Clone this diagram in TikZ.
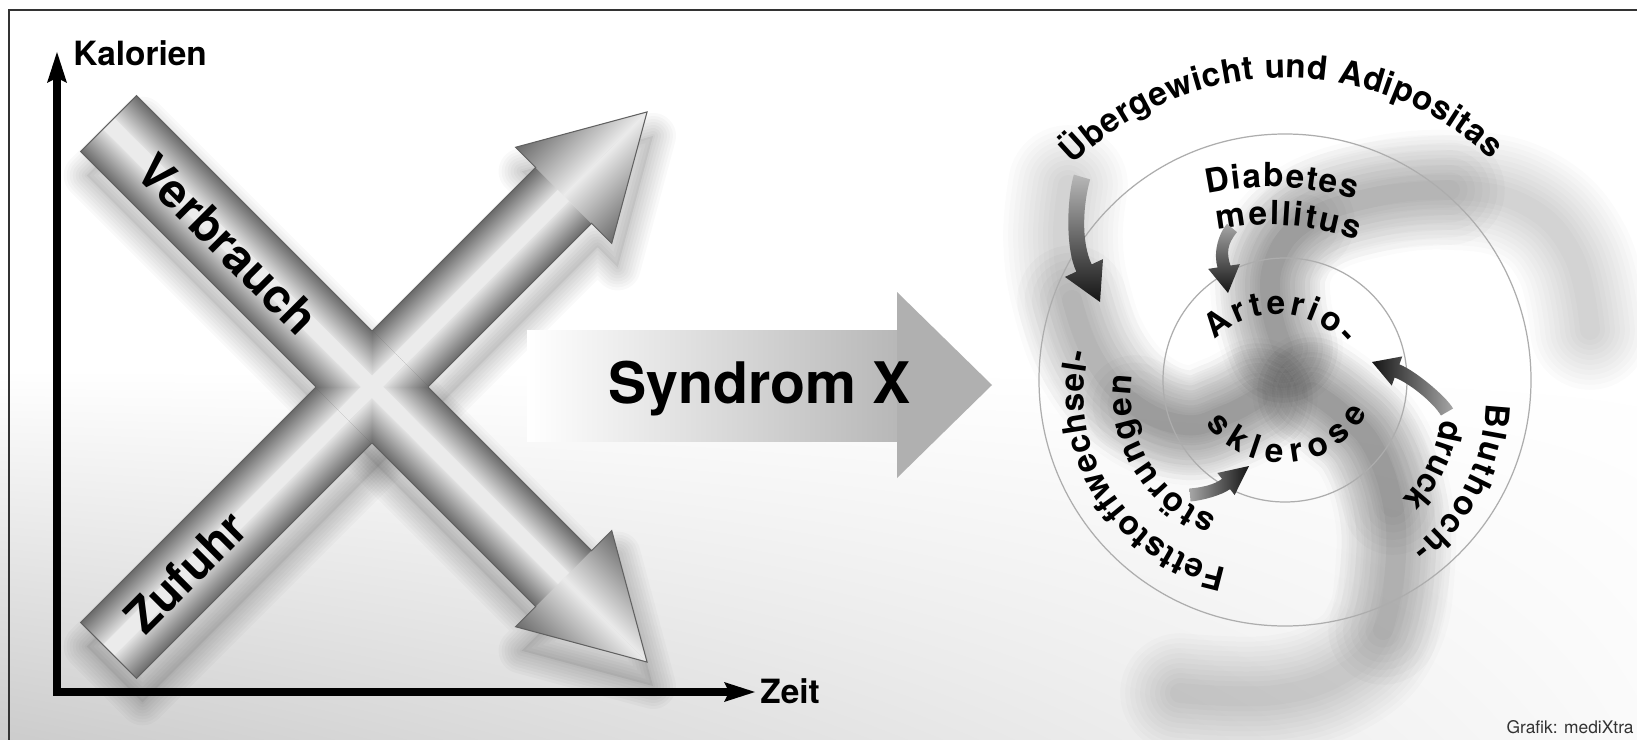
\documentclass[tikz,border=0pt]{standalone}
\usepackage{fontspec}
\setmainfont{TeX Gyre Heros}
\usetikzlibrary{calc,decorations.text,shadings}
\newcommand\lblfont{\fontsize{18.9pt}{20pt}\selectfont\bfseries}
\newcommand\axfont{\fontsize{19pt}{21pt}\selectfont\bfseries}
\newcommand\xlblfont{\fontsize{26.9pt}{29pt}\selectfont\bfseries}
\newcommand\sxfont{\fontsize{32.6pt}{35pt}\selectfont\bfseries}
\newcommand\darrow[8]{%
 \coordinate (Tp) at ($(#1)!#6!90:(#2)$);
 \coordinate (Tm) at ($(#1)!#6!-90:(#2)$);
 \coordinate (Bp) at ($(#4)!#6!90:(#5)$);
 \coordinate (Bm) at ($(#4)!#6!-90:(#5)$);
 \coordinate (Hp) at ($(#4)!#7!90:(#5)$);
 \coordinate (Hm) at ($(#4)!#7!-90:(#5)$);
 \shade[#8] (Tp) .. controls ($(#2)+(Tp)-(#1)$) and ($(#3)+(Bp)-(#4)$) .. (Bp) -- (Hp) -- (#5) -- (Hm) -- (Bm) .. controls ($(#3)+(Bm)-(#4)$) and ($(#2)+(Tm)-(#1)$) .. (Tm) -- cycle;
}
\tikzset{
 axisline/.style={line width=4.3pt, black},
 ring/.style={draw=black!32, line width=0.7pt},
 swirl/.style={line cap=round, line join=round, black},
 xedge/.style={draw=black!62, line width=0.6pt, line join=miter},
 curved/.style={decorate, decoration={text along path, text align={fit to path}, text={#1}}},
}
\begin{document}
\begin{tikzpicture}[x=0.02cm, y=0.02cm]
\useasboundingbox (0,0) rectangle (1637,-740);
% background
\fill[white] (0,0) rectangle (1637,-740);
\shade[upper left=white, upper right=white, lower left=black!20, lower right=black!2] (0,-370) rectangle (1637,-740);
\draw[black!80, line width=1.2pt] (9,-10) rectangle (1660,-760);

% ---------- swirl ----------
\foreach \w in {120,110,...,20}{
 \draw[swirl, line width=\w*0.5669pt, opacity=0.016] plot[smooth, tension=0.7] coordinates {(1283,-348) (1272,-310) (1274,-262) (1305,-222) (1370,-198) (1450,-190) (1525,-205) (1573,-255) (1590,-330)};
 \draw[swirl, line width=\w*0.5669pt, opacity=0.016] plot[smooth, tension=0.7] coordinates {(1312,-392) (1340,-412) (1372,-445) (1393,-505) (1395,-570) (1383,-630) (1345,-672) (1275,-695) (1180,-693)};
 \draw[swirl, line width=\w*0.5669pt, opacity=0.016] plot[smooth, tension=0.7] coordinates {(1258,-398) (1225,-415) (1185,-425) (1135,-405) (1095,-360) (1072,-300) (1063,-240) (1068,-185)};
}
\foreach \w in {110,95,...,20}{
 \draw[swirl, line width=\w*0.5669pt, opacity=0.018] plot[smooth, tension=0.7] coordinates {(1283,-348) (1272,-310) (1274,-262) (1305,-222) (1370,-198) (1450,-190)};
 \draw[swirl, line width=\w*0.5669pt, opacity=0.018] plot[smooth, tension=0.7] coordinates {(1312,-392) (1340,-412) (1372,-445) (1393,-505) (1395,-570) (1383,-630)};
 \draw[swirl, line width=\w*0.5669pt, opacity=0.018] plot[smooth, tension=0.7] coordinates {(1258,-398) (1225,-415) (1185,-425) (1135,-405) (1095,-360) (1072,-300)};
}
\foreach \w in {100,85,...,25}{
 \draw[swirl, line width=\w*0.5669pt, opacity=0.018] plot[smooth, tension=0.7] coordinates {(1283,-348) (1272,-310) (1274,-262) (1305,-222)};
 \draw[swirl, line width=\w*0.5669pt, opacity=0.018] plot[smooth, tension=0.7] coordinates {(1312,-392) (1340,-412) (1372,-445) (1393,-505)};
 \draw[swirl, line width=\w*0.5669pt, opacity=0.018] plot[smooth, tension=0.7] coordinates {(1258,-398) (1225,-415) (1185,-425) (1135,-405)};
}
% rings
\coordinate (C) at (1285,-380);
\draw[ring] (C) circle[radius=246];
\draw[ring] (C) circle[radius=122];

% ---------- X arrows ----------
\coordinate (X) at (372,-387);
% shadows
\foreach \r in {-45,45}{
 \begin{scope}[shift={(378,-411)}, rotate=\r]
  \fill[black, opacity=0.06] (-372.6,39.5) -- (271,39.5) -- (271,68) -- (389,0) -- (271,-68) -- (271,-39.5) -- (-372.6,-39.5) -- cycle;
  \foreach \w in {46,40,...,4}{
   \draw[black, line join=round, line width=\w*0.5669pt, opacity=0.022] (-372.6,39.5) -- (271,39.5) -- (271,68) -- (389,0) -- (271,-68) -- (271,-39.5) -- (-372.6,-39.5) -- cycle;
  }
 \end{scope}
}
% bars
\foreach \r in {45,-45}{
 \begin{scope}[transform canvas={rotate around={\r:(X)}}]
  \begin{scope}[shift={(X)}]
   \shade[top color=black!58, bottom color=black!12] (-372.6,8) rectangle (271,39.5);
   \fill[black!8] (-372.6,-8) rectangle (271,8);
   \shade[top color=black!12, bottom color=black!58] (-372.6,-39.5) rectangle (271,-8);
   \begin{scope}
    \clip (271,68) -- (389,0) -- (271,-68) -- cycle;
    \shade[top color=black!58, bottom color=black!8] (271,0) rectangle (389,68);
    \shade[top color=black!8, bottom color=black!58] (271,-68) rectangle (389,0);
   \end{scope}
   \draw[xedge] (-372.6,39.5) -- (271,39.5) -- (271,68) -- (389,0) -- (271,-68) -- (271,-39.5) -- (-372.6,-39.5) -- cycle;
  \end{scope}
 \end{scope}
}
% mitred crossing
\begin{scope}[transform canvas={rotate around={45:(X)}}]
 \begin{scope}[shift={(X)}]
  \begin{scope}
   \clip (-40,40) -- (0,0) -- (-40,-40) -- cycle (40,40) -- (0,0) -- (40,-40) -- cycle;
   \shade[top color=black!58, bottom color=black!12] (-40,8) rectangle (40,39.5);
   \fill[black!8] (-40,-8) rectangle (40,8);
   \shade[top color=black!12, bottom color=black!58] (-40,-39.5) rectangle (40,-8);
  \end{scope}
  \begin{scope}
   \clip (-40,40) -- (0,0) -- (40,40) -- cycle (-40,-40) -- (0,0) -- (40,-40) -- cycle;
   \shade[right color=black!58, left color=black!12] (8,-40) rectangle (39.5,40);
   \fill[black!8] (-8,-40) rectangle (8,40);
   \shade[right color=black!12, left color=black!58] (-39.5,-40) rectangle (-8,40);
  \end{scope}
 \end{scope}
\end{scope}
\node[font=\xlblfont, rotate=-45] (verb) at (228,-244) {Verbrauch};
\node[font=\xlblfont, rotate=45] (zuf) at (186,-572) {Zufuhr};

% ---------- axes ----------
\coordinate (orig) at (57,-692);
\coordinate (yend) at (57,-78);
\coordinate (xend) at (729,-692);
\coordinate (ytip) at (57,-52);
\coordinate (xtip) at (755,-692);
\draw[axisline, line join=miter] (yend) -- (orig) -- (xend);
\fill[black] (ytip) -- (67,-83) -- (57,-78) -- (47,-83) -- cycle;
\fill[black] (xtip) -- (724,-702) -- (729,-692) -- (724,-682) -- cycle;
\node[font=\axfont, anchor=base west, inner sep=0] (kal) at (73,-66) {Kalorien};
\node[font=\axfont, anchor=base west, inner sep=0] (zeit) at (760,-703) {Zeit};

% ---------- Syndrom X arrow ----------
\shade[left color=white, right color=black!28] (527,-330) rectangle (897,-441);
\fill[black!31] (897,-292) -- (992,-385) -- (897,-478) -- cycle;
\node[font=\sxfont, anchor=base west, inner sep=0] (sx) at (608,-403) {Syndrom X};

% ---------- curved labels ----------
\path[curved={|\lblfont|Übergewicht und Adipositas}] ($(C)+(134.6:302)$) arc[start angle=134.6, end angle=47, radius=302];
\coordinate (DM) at (1270,-480);
\path[curved={|\lblfont|Diabetes}] ($(DM)+(102.4:293)$) arc[start angle=102.4, end angle=73.1, radius=293];
\path[curved={|\lblfont|mellitus}] ($(DM)+(101.8:255)$) arc[start angle=101.8, end angle=70.1, radius=255];
\coordinate (AR) at (1277,-402);
\path[curved={|\lblfont|Arterio-}] ($(AR)+(135:88)$) arc[start angle=135, end angle=40, radius=88];
\coordinate (SK) at (1283,-366);
\path[curved={|\lblfont|sklerose}] ($(SK)+(217:97)$) arc[start angle=217, end angle=331, radius=97];
\coordinate (FS) at (1260,-395);
\path[curved={|\lblfont|Fettstoffwechsel-}] ($(FS)+(259:176)$) arc[start angle=259, end angle=166, radius=176];
\path[curved={|\lblfont|störungen}] ($(FS)+(250.5:129)$) arc[start angle=250.5, end angle=171, radius=129];
\coordinate (BD) at (1300,-400);
\path[curved={|\lblfont|Bluthoch-}] ($(BD)+(-1:186)$) arc[start angle=-1, end angle=-53, radius=186];
\path[curved={|\lblfont|druck}] ($(BD)+(-8:143)$) arc[start angle=-8, end angle=-44, radius=143];

% ---------- dark curved arrows ----------
\coordinate (a1t) at (1082,-177); \coordinate (a1c) at (1075,-201); \coordinate (a1d) at (1073,-245); \coordinate (a1b) at (1084,-268); \coordinate (a1h) at (1100,-302);
\darrow{a1t}{a1c}{a1d}{a1b}{a1h}{0.17cm}{0.42cm}{top color=black!28, bottom color=black!92}
\coordinate (a2t) at (1232,-228); \coordinate (a2c) at (1222,-240); \coordinate (a2d) at (1220,-254); \coordinate (a2b) at (1224,-266.5); \coordinate (a2h) at (1228,-293);
\darrow{a2t}{a2c}{a2d}{a2b}{a2h}{0.13cm}{0.32cm}{top color=black!35, bottom color=black!92}
\coordinate (a3t) at (1190,-495); \coordinate (a3c) at (1202,-494); \coordinate (a3d) at (1218,-490); \coordinate (a3b) at (1226,-484); \coordinate (a3h) at (1249,-466);
\darrow{a3t}{a3c}{a3d}{a3b}{a3h}{0.13cm}{0.28cm}{left color=black!35, right color=black!92}
\coordinate (a4t) at (1447,-412); \coordinate (a4c) at (1439.5,-399); \coordinate (a4d) at (1411,-376); \coordinate (a4b) at (1397,-371); \coordinate (a4h) at (1372,-362);
\darrow{a4t}{a4c}{a4d}{a4b}{a4h}{0.14cm}{0.31cm}{left color=black!92, right color=black!35}

% credit
\node[font=\fontsize{9.9pt}{11pt}\selectfont, text=black!80, anchor=base east, inner sep=0] (credit) at (1634,-733) {Grafik: mediXtra};
\end{tikzpicture}
\end{document}
